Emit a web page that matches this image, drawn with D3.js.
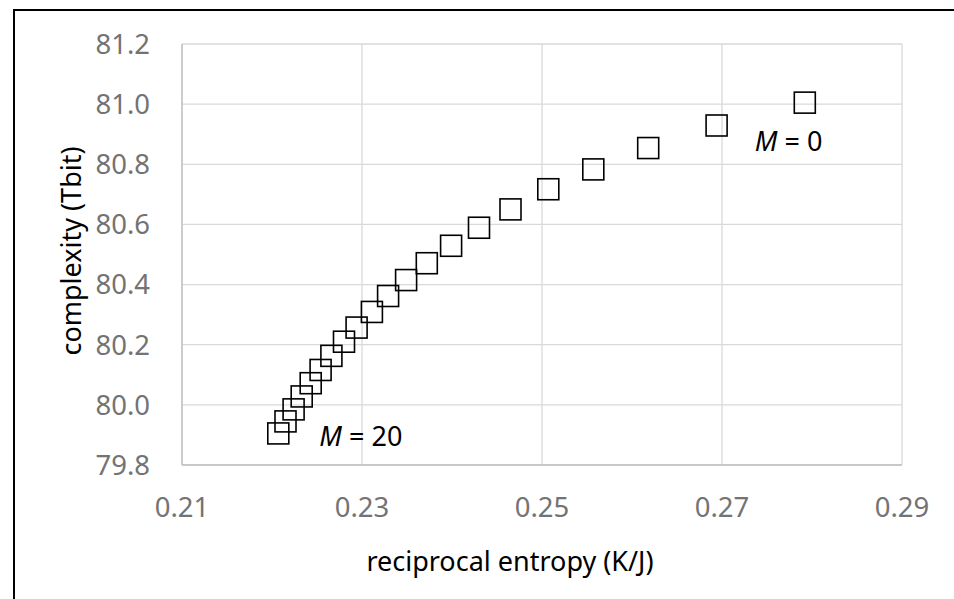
<!DOCTYPE html>
<html>
<head>
<meta charset="utf-8">
<script src="https://cdn.jsdelivr.net/npm/d3@7"></script>
<style>
  html, body { margin: 0; padding: 0; background: #fff; }
  svg { display: block; }
</style>
</head>
<body>
<svg id="chart" width="954" height="599"></svg>
<script>
// Data: M = 0 ... 20
const mValues = [0,1,2,3,4,5,6,7,8,9,10,11,12,13,14,15,16,17,18,19,20];
const reciprocalEntropy = [0.2792,0.2694,0.2618,0.2557,0.2507,0.2465,0.2430,0.2399,0.2372,0.2349,0.2329,0.2311,0.2294,0.2280,0.2266,0.2254,0.2243,0.2233,0.2224,0.2215,0.2207];
const complexity = [81.005,80.929,80.854,80.783,80.717,80.650,80.589,80.529,80.471,80.415,80.362,80.309,80.257,80.210,80.163,80.116,80.072,80.028,79.985,79.945,79.905];
const xTicks = [0.21,0.23,0.25,0.27,0.29];
const yTicks = [79.8,80.0,80.2,80.4,80.6,80.8,81.0,81.2];
const xTitle = "reciprocal entropy (K/J)";
const yTitle = "complexity (Tbit)";

const svg = d3.select("#chart");
const font = "'Noto Sans', 'Open Sans', sans-serif";

// outer frame
svg.append("rect").attr("x", 14).attr("y", 10).attr("width", 1000).attr("height", 700)
  .attr("fill", "none").attr("stroke", "#000").attr("stroke-width", 2);

const x = d3.scaleLinear().domain([0.21, 0.29]).range([182, 902]);
const y = d3.scaleLinear().domain([79.8, 81.2]).range([465, 44]);

// gridlines
svg.append("g").selectAll("line.h").data(yTicks).join("line")
  .attr("x1", x(0.21)).attr("x2", x(0.29))
  .attr("y1", d => y(d)).attr("y2", d => y(d))
  .attr("stroke", "#d9d9d9").attr("stroke-width", 1.3);
svg.append("g").selectAll("line.v").data(xTicks).join("line")
  .attr("y1", y(79.8)).attr("y2", y(81.2))
  .attr("x1", d => x(d)).attr("x2", d => x(d))
  .attr("stroke", "#d9d9d9").attr("stroke-width", 1.3);

// axis lines
svg.append("line").attr("x1", x(0.21)).attr("x2", x(0.29)).attr("y1", y(79.8)).attr("y2", y(79.8))
  .attr("stroke", "#bfbfbf").attr("stroke-width", 1.3);
svg.append("line").attr("x1", x(0.21)).attr("x2", x(0.21)).attr("y1", y(79.8)).attr("y2", y(81.2))
  .attr("stroke", "#bfbfbf").attr("stroke-width", 1.3);

// tick labels
svg.append("g").selectAll("text").data(yTicks).join("text")
  .attr("x", 150).attr("y", d => y(d)).attr("dy", "0.36em")
  .attr("text-anchor", "end").attr("font-family", font).attr("font-size", 27.5)
  .attr("fill", "#737373").text(d => d3.format(".1f")(d));
svg.append("g").selectAll("text").data(xTicks).join("text")
  .attr("x", d => x(d)).attr("y", 517)
  .attr("text-anchor", "middle").attr("font-family", font).attr("font-size", 27.5)
  .attr("fill", "#737373").text(d => d3.format(".2f")(d));

// axis titles
svg.append("text").attr("x", 510).attr("y", 571).attr("text-anchor", "middle")
  .attr("font-family", font).attr("font-size", 27).attr("fill", "#000").text(xTitle);
svg.append("text").attr("transform", "translate(81,251) rotate(-90)").attr("text-anchor", "middle")
  .attr("font-family", font).attr("font-size", 27).attr("fill", "#000").text(yTitle);

// markers
const pts = mValues.map((m, i) => ({ m, x: reciprocalEntropy[i], y: complexity[i] }));
const s = 21;
svg.append("g").selectAll("rect").data(pts).join("rect")
  .attr("x", d => x(d.x) - s / 2).attr("y", d => y(d.y) - s / 2)
  .attr("width", s).attr("height", s)
  .attr("fill", "none").attr("stroke", "#000").attr("stroke-width", 1.6);

// point labels
function mLabel(p, dx, dy) {
  const t = svg.append("text").attr("x", x(p.x) + dx).attr("y", y(p.y) + dy)
    .attr("font-family", font).attr("font-size", 27).attr("fill", "#000");
  t.append("tspan").attr("font-style", "italic").text("M");
  t.append("tspan").text(" = " + p.m);
}
mLabel(pts[0], -50, 48);
mLabel(pts[pts.length - 1], 41, 13);
</script>
</body>
</html>
